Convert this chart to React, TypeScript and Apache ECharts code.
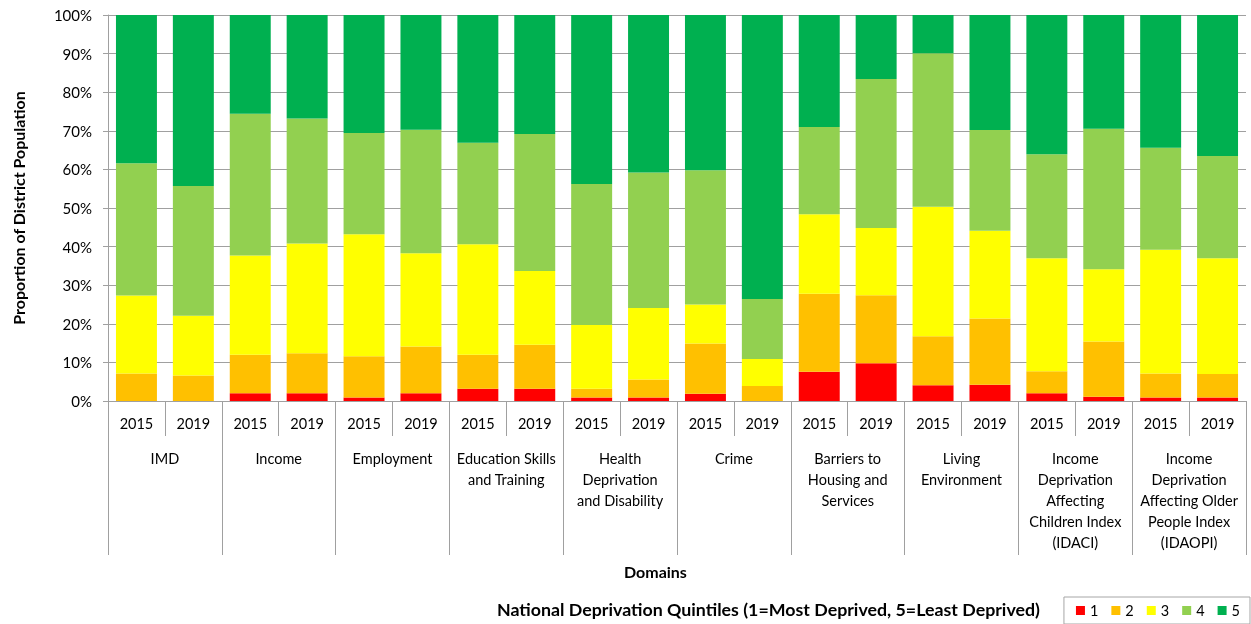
import React, { useEffect, useRef } from "react";
import * as echarts from "echarts";

const domains = [
  "IMD",
  "Income",
  "Employment",
  "Education Skills\nand Training",
  "Health\nDeprivation\nand Disability",
  "Crime",
  "Barriers to\nHousing and\nServices",
  "Living\nEnvironment",
  "Income\nDeprivation\nAffecting\nChildren Index\n(IDACI)",
  "Income\nDeprivation\nAffecting Older\nPeople Index\n(IDAOPI)",
];
const years = ["2015", "2019"];
const yearLabels = domains.flatMap(() => years);

const quintileNames = ["1", "2", "3", "4", "5"];
const quintileColors = ["#FF0000", "#FFC000", "#FFFF00", "#92D050", "#00B050"];

// values per bar (IMD 2015, IMD 2019, Income 2015, ...), in %
const q1 = [0, 0, 2.0, 2.0, 0.9, 2.0, 3.2, 3.2, 0.9, 0.9, 1.9, 0, 7.6, 9.8, 4.1, 4.2, 2.0, 1.1, 0.9, 0.9];
const q2 = [7.1, 6.6, 10.0, 10.4, 10.7, 12.1, 8.8, 11.4, 2.3, 4.7, 13.0, 3.9, 20.2, 17.6, 12.7, 17.2, 5.7, 14.3, 6.2, 6.1];
const q3 = [20.2, 15.5, 25.7, 28.4, 31.6, 24.2, 28.6, 19.1, 16.5, 18.5, 10.1, 7.0, 20.6, 17.4, 33.5, 22.7, 29.3, 18.7, 32.1, 30.0];
const q4 = [34.3, 33.6, 36.7, 32.4, 26.2, 32.0, 26.3, 35.5, 36.5, 35.1, 34.8, 15.5, 22.6, 38.6, 39.8, 26.1, 26.9, 36.4, 26.4, 26.5];
const q5 = [38.4, 44.3, 25.6, 26.8, 30.6, 29.7, 33.1, 30.8, 43.8, 40.8, 40.2, 73.6, 29.0, 16.6, 9.9, 29.8, 36.1, 29.5, 34.4, 36.5];
const quintileValues = [q1, q2, q3, q4, q5];

const FONT = "Lato, 'Open Sans', sans-serif";

export default function App() {
  const ref = useRef<HTMLDivElement>(null);
  useEffect(() => {
    if (!ref.current) return;
    const chart = echarts.init(ref.current, null, { renderer: "svg" });
    chart.setOption({
      animation: false,
      textStyle: { fontFamily: FONT },
      grid: { left: 108, right: 5, top: 15, bottom: 223, containLabel: false },
      legend: {
        data: quintileNames,
        right: 1,
        bottom: 0,
        borderColor: "#a6a6a6",
        borderWidth: 1,
        padding: [6, 10, 6, 12],
        itemWidth: 9,
        itemHeight: 9,
        itemGap: 13,
        icon: "rect",
        textStyle: { fontSize: 14.5, color: "#000", fontFamily: FONT },
      },
      graphic: [
        {
          type: "text",
          left: 497,
          top: 600,
          style: {
            text: "National Deprivation Quintiles (1=Most Deprived, 5=Least Deprived)",
            fontSize: 17.8,
            fontWeight: "bold",
            fill: "#000",
            fontFamily: FONT,
          },
        },
        {
          type: "text",
          left: 624,
          top: 563,
          style: {
            text: "Domains",
            fontSize: 16,
            fontWeight: "bold",
            fill: "#000",
            fontFamily: FONT,
          },
        },
      ],
      xAxis: [
        {
          type: "category",
          data: yearLabels,
          position: "bottom",
          axisLine: { show: true, lineStyle: { color: "#a0a0a0" } },
          axisTick: { show: true, interval: 0, length: 35, lineStyle: { color: "#a0a0a0" } },
          axisLabel: { interval: 0, margin: 15, fontSize: 14.5, color: "#000", fontFamily: FONT },
          splitLine: { show: false },
        },
        {
          type: "category",
          data: domains,
          position: "bottom",
          axisLine: { show: false },
          axisTick: { show: true, interval: 0, length: 154, lineStyle: { color: "#a0a0a0" } },
          axisLabel: {
            interval: 0,
            margin: 47,
            fontSize: 14.5,
            lineHeight: 21,
            color: "#000",
            fontFamily: FONT,
            verticalAlign: "top",
          },
          splitLine: { show: false },
        },
      ],
      yAxis: {
        type: "value",
        min: 0,
        max: 100,
        interval: 10,
        name: "Proportion of District Population",
        nameLocation: "middle",
        nameGap: 82,
        nameTextStyle: { fontSize: 16, fontWeight: "bold", color: "#000", fontFamily: FONT },
        axisLine: { show: true, lineStyle: { color: "#a0a0a0" } },
        axisTick: { show: true, length: 5, lineStyle: { color: "#a0a0a0" } },
        axisLabel: { formatter: "{value}%", fontSize: 15, color: "#000", margin: 16, fontFamily: FONT },
        splitLine: { show: true, lineStyle: { color: "#a0a0a0" } },
      },
      series: quintileNames.map((n, i) => ({
        name: n,
        type: "bar",
        stack: "total",
        xAxisIndex: 0,
        barWidth: "72%",
        itemStyle: { color: quintileColors[i] },
        data: quintileValues[i],
      })),
    });
    return () => chart.dispose();
  }, []);
  return (
    <div
      ref={ref}
      style={{ position: "fixed", left: 0, top: 0, width: 1251, height: 624 }}
    />
  );
}
